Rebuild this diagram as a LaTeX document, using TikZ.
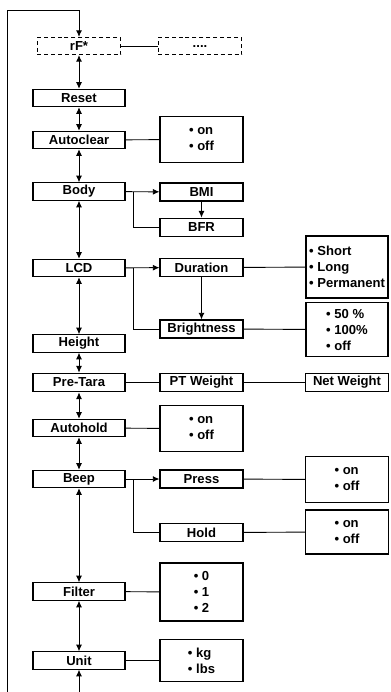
\documentclass[tikz,border=0pt]{standalone}
\usepackage{fontspec}
\setmainfont{Liberation Sans}
\usepackage{tikz}
\usetikzlibrary{arrows.meta}

\begin{document}
\begin{tikzpicture}[x=0.75pt, y=-0.75pt,
    >={Latex[length=5pt,width=4.5pt]},
    every node/.style={font=\fontsize{9.8}{12}\selectfont\bfseries, inner sep=1pt},
    menubox/.style={draw, line width=0.8pt, minimum width=69pt, minimum height=13pt},
    subbox/.style={draw, line width=0.8pt, minimum width=62.25pt, minimum height=13.5pt},
    optbox/.style={draw, line width=0.8pt, align=left, minimum width=62.25pt},
    dashbox/.style={draw, line width=0.8pt, dash pattern=on 3pt off 2.2pt, minimum width=62.5pt, minimum height=12.75pt},
    link/.style={line width=0.7pt}]
    \useasboundingbox (0, 0) rectangle (390, 692);
    % main column
    \node[dashbox] at (79, 46) (rf) {rF*};
    \node[menubox] at (79, 98) (reset) {Reset};
    \node[menubox] at (79, 140) (autoclear) {Autoclear};
    \node[menubox] at (79, 191.5) (body) {Body};
    \node[menubox] at (79, 268) (lcd) {LCD};
    \node[menubox] at (79, 343.5) (height) {Height};
    \node[menubox, minimum height=14pt] at (79, 382.5) (pretara) {Pre-Tara};
    \node[menubox] at (79, 428) (autohold) {Autohold};
    \node[menubox] at (79, 479) (beep) {Beep};
    \node[menubox] at (79, 591.5) (filter) {Filter};
    \node[menubox] at (79, 660.5) (unit) {Unit};
    % second column
    \node[dashbox] at (200, 46) (dots) {\raisebox{-2pt}{....}};
    \node[optbox, minimum height=34pt] at (201.5, 139.5) (acopt) {\textbullet\ on\\\textbullet\ off};
    \node[subbox] at (201.5, 192) (bmi) {BMI};
    \node[subbox, minimum height=14pt] at (201.5, 227.5) (bfr) {BFR};
    \node[subbox, minimum height=14pt] at (201.5, 267.5) (duration) {Duration};
    \node[subbox] at (201.5, 329) (brightness) {Brightness};
    \node[subbox, minimum height=14pt] at (201.5, 382.5) (ptweight) {PT Weight};
    \node[optbox, minimum height=34pt] at (201.5, 428.5) (ahopt) {\textbullet\ on\\\textbullet\ off};
    \node[subbox] at (201.5, 479) (press) {Press};
    \node[subbox, minimum height=14pt] at (201.5, 532.5) (hold) {Hold};
    \node[optbox, minimum height=43.5pt] at (201.5, 592) (filtopt) {\textbullet\ 0\\\textbullet\ 1\\\textbullet\ 2};
    \node[optbox, minimum height=31pt] at (201.5, 660.5) (unitopt) {\textbullet\ kg\\\textbullet\ lbs};
    % third column
    \node[optbox, minimum width=61.5pt, minimum height=46.5pt, inner sep=0.5pt] at (347, 267) (duropt) {\textbullet\ Short\\\textbullet\ Long\\\textbullet\ Permanent};
    \node[optbox, minimum width=61.5pt, minimum height=41pt] at (347, 329.5) (briopt) {\textbullet\ 50 \%\\\textbullet\ 100\%\\\textbullet\ off};
    \node[subbox, minimum height=14pt] at (347, 382.5) (netweight) {Net Weight};
    \node[optbox, minimum height=34pt] at (347, 479.5) (pressopt) {\textbullet\ on\\\textbullet\ off};
    \node[optbox, minimum height=33pt] at (347, 532) (holdopt) {\textbullet\ on\\\textbullet\ off};
    % loop back
    \coordinate (loopbl) at (7, 692);
    \coordinate (looptl) at (7, 10);
    \coordinate (looptr) at (79, 10);
    \coordinate (loopbr) at (79, 692);
    \draw[link, ->] (loopbl) -- (looptl) -- (looptr) -- (rf);
    \draw[link, ->] (loopbr) -- (unit);
    % main column arrows
    \draw[link, <->] (rf) -- (reset);
    \draw[link, <->] (reset) -- (autoclear);
    \draw[link, <->] (autoclear) -- (body);
    \draw[link, <->] (body) -- (lcd);
    \draw[link, <->] (lcd) -- (height);
    \draw[link, <->] (height) -- (pretara);
    \draw[link, <->] (pretara) -- (autohold);
    \draw[link, <->] (autohold) -- (beep);
    \draw[link, <->] (beep) -- (filter);
    \draw[link, <->] (filter) -- (unit);
    % side links
    \draw[link] (rf) -- (dots);
    \draw[link] (autoclear) -- (acopt);
    \coordinate (bodyfork) at (133, 191.5);
    \draw[link, ->] (body) -- (bmi);
    \draw[link] (bodyfork) |- (bfr);
    \draw[link, ->] (bmi) -- (bfr);
    \coordinate (lcdfork) at (133, 268);
    \draw[link, ->] (lcd) -- (duration);
    \draw[link] (lcdfork) |- (brightness);
    \draw[link, ->] (duration) -- (brightness);
    \draw[link] (duration) -- (duropt);
    \draw[link] (brightness) -- (briopt);
    \draw[link] (pretara) -- (ptweight);
    \draw[link] (ptweight) -- (netweight);
    \draw[link] (autohold) -- (ahopt);
    \coordinate (beepfork) at (133, 479);
    \draw[link, ->] (beep) -- (press);
    \draw[link] (beepfork) |- (hold);
    \draw[link] (press) -- (pressopt);
    \draw[link] (hold) -- (holdopt);
    \draw[link] (filter) -- (filtopt);
    \draw[link] (unit) -- (unitopt);
\end{tikzpicture}
\end{document}
